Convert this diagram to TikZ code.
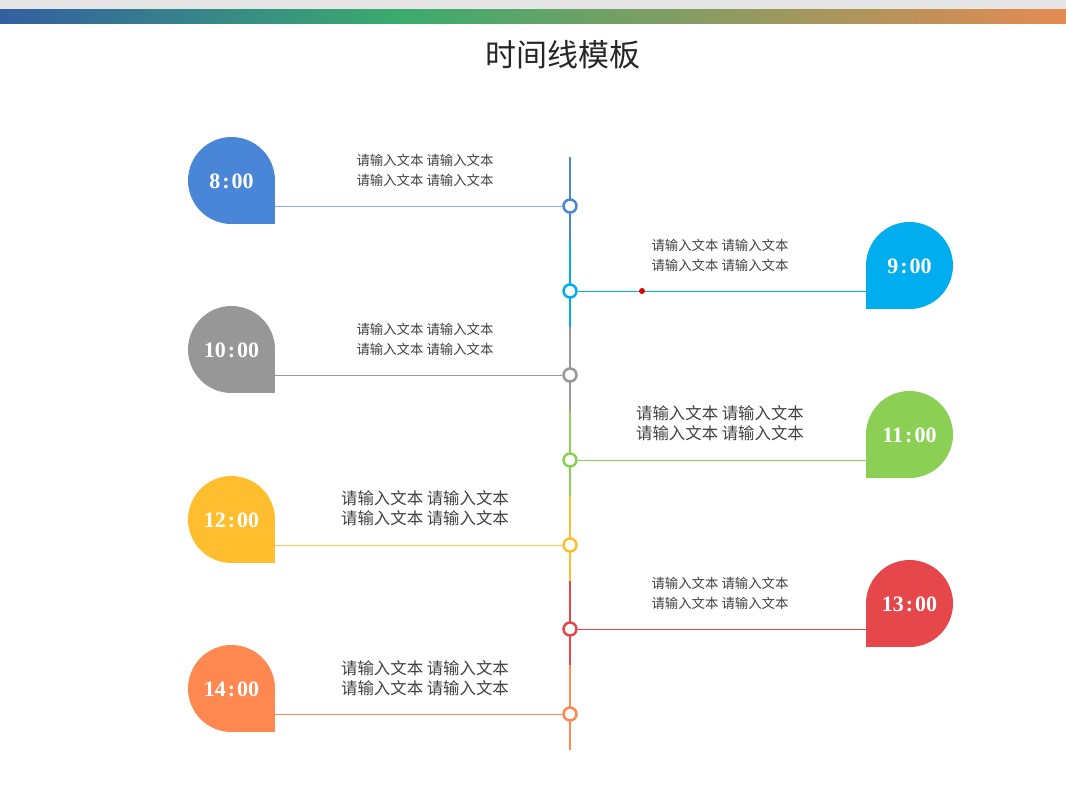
\documentclass[tikz,border=0pt]{standalone}
\usepackage{fontspec}
\setmainfont{Liberation Serif}
\newfontfamily\cjk{Noto Sans CJK SC}
\usepackage{tikz}
\usetikzlibrary{positioning,calc}

\definecolor{topgray}{HTML}{E6E6E6}
\definecolor{barblue}{HTML}{335FA2}
\definecolor{bargreen}{HTML}{3AAB6E}
\definecolor{barorange}{HTML}{E58A52}
\definecolor{txtgray}{HTML}{404040}
\definecolor{cA}{HTML}{4A86D8}
\definecolor{cB}{HTML}{00AEEF}
\definecolor{cC}{HTML}{979797}
\definecolor{cD}{HTML}{8CCF55}
\definecolor{cE}{HTML}{FFBE2D}
\definecolor{cF}{HTML}{E5474B}
\definecolor{cG}{HTML}{FF8750}

% drop shaped time tag: x, y, colour, side of the sharp corner (1 right, -1 left)
\newcommand{\tagshape}[4]{%
  \fill[#3] (#1,#2) circle[radius=43.5];
  \fill[#3] (#1,#2) rectangle ++(#4*43.5,43.5);}

\begin{document}
\begin{tikzpicture}[
    x=1pt, y=-1pt,
    every node/.style={inner sep=0pt},
    axisseg/.style={line width=2.6pt},
    hline/.style={line width=1pt},
    ring/.style={circle, draw, line width=2.5pt, fill=white, minimum size=13pt},
    timetag/.style={circle, minimum size=87pt, text=white,
                    font=\fontsize{22}{24}\selectfont\bfseries},
    note/.style={align=center, text=txtgray, font=\cjk\fontsize{13.4}{20}\selectfont},
    bignote/.style={note, font=\cjk\fontsize{16.4}{20}\selectfont},
]
\useasboundingbox (0,0) rectangle (1066,796);

% -------- top band and title --------
\fill[topgray] (0,0) rectangle (1066,9);
\shade[left color=barblue, right color=bargreen] (0,9) rectangle (395,23);
\shade[left color=bargreen, right color=barorange] (395,9) rectangle (1066,23);
\node[font=\cjk\fontsize{31}{34}\selectfont, text=black!85] (title) at (563,55) {时间线模板};

% -------- vertical axis --------
\foreach \ya/\yb/\col in {157/242/cA, 242/327/cB, 327/411/cC, 411/496/cD,
                          496/581/cE, 581/665/cF, 665/750/cG}{
  \draw[axisseg, \col] (570,\ya) -- (570,\yb);
}

% -------- 8:00 --------
\node[ring, draw=cA] (p1) at (570,206) {};
\tagshape{231.5}{180.5}{cA}{1}
\node[timetag] (m1) at (231.5,181.5) {8\kern2pt:\kern2pt00};
\draw[hline, cA!65!white] (p1) -- (p1 -| m1.east);
\node[note] (t1) at (425,170.5) {请输入文本 请输入文本\\请输入文本 请输入文本};

% -------- 9:00 --------
\node[ring, draw=cB] (p2) at (570,291) {};
\tagshape{909.5}{265.5}{cB}{-1}
\node[timetag] (m2) at (909.5,266.5) {9\kern2pt:\kern2pt00};
\draw[hline, cB] (p2) -- (p2 -| m2.west);
\fill[red!85!black] (642,291) circle[radius=3];
\node[note] (t2) at (720,255.5) {请输入文本 请输入文本\\请输入文本 请输入文本};

% -------- 10:00 --------
\node[ring, draw=cC] (p3) at (570,375) {};
\tagshape{231.5}{349.5}{cC}{1}
\node[timetag] (m3) at (231.5,350.5) {10\kern2pt:\kern2pt00};
\draw[hline, cC] (p3) -- (p3 -| m3.east);
\node[note] (t3) at (425,339.5) {请输入文本 请输入文本\\请输入文本 请输入文本};

% -------- 11:00 --------
\node[ring, draw=cD] (p4) at (570,460) {};
\tagshape{909.5}{434.5}{cD}{-1}
\node[timetag] (m4) at (909.5,435.5) {11\kern2pt:\kern2pt00};
\draw[hline, cD] (p4) -- (p4 -| m4.west);
\node[bignote] (t4) at (720,423) {请输入文本 请输入文本\\请输入文本 请输入文本};

% -------- 12:00 --------
\node[ring, draw=cE] (p5) at (570,545) {};
\tagshape{231.5}{519.5}{cE}{1}
\node[timetag] (m5) at (231.5,520.5) {12\kern2pt:\kern2pt00};
\draw[hline, cE!80!white] (p5) -- (p5 -| m5.east);
\node[bignote] (t5) at (425,508) {请输入文本 请输入文本\\请输入文本 请输入文本};

% -------- 13:00 --------
\node[ring, draw=cF] (p6) at (570,629) {};
\tagshape{909.5}{603.5}{cF}{-1}
\node[timetag] (m6) at (909.5,604.5) {13\kern2pt:\kern2pt00};
\draw[hline, cF] (p6) -- (p6 -| m6.west);
\node[note] (t6) at (720,593.5) {请输入文本 请输入文本\\请输入文本 请输入文本};

% -------- 14:00 --------
\node[ring, draw=cG] (p7) at (570,714) {};
\tagshape{231.5}{688.5}{cG}{1}
\node[timetag] (m7) at (231.5,689.5) {14\kern2pt:\kern2pt00};
\draw[hline, cG] (p7) -- (p7 -| m7.east);
\node[bignote] (t7) at (425,678) {请输入文本 请输入文本\\请输入文本 请输入文本};

\end{tikzpicture}
\end{document}
